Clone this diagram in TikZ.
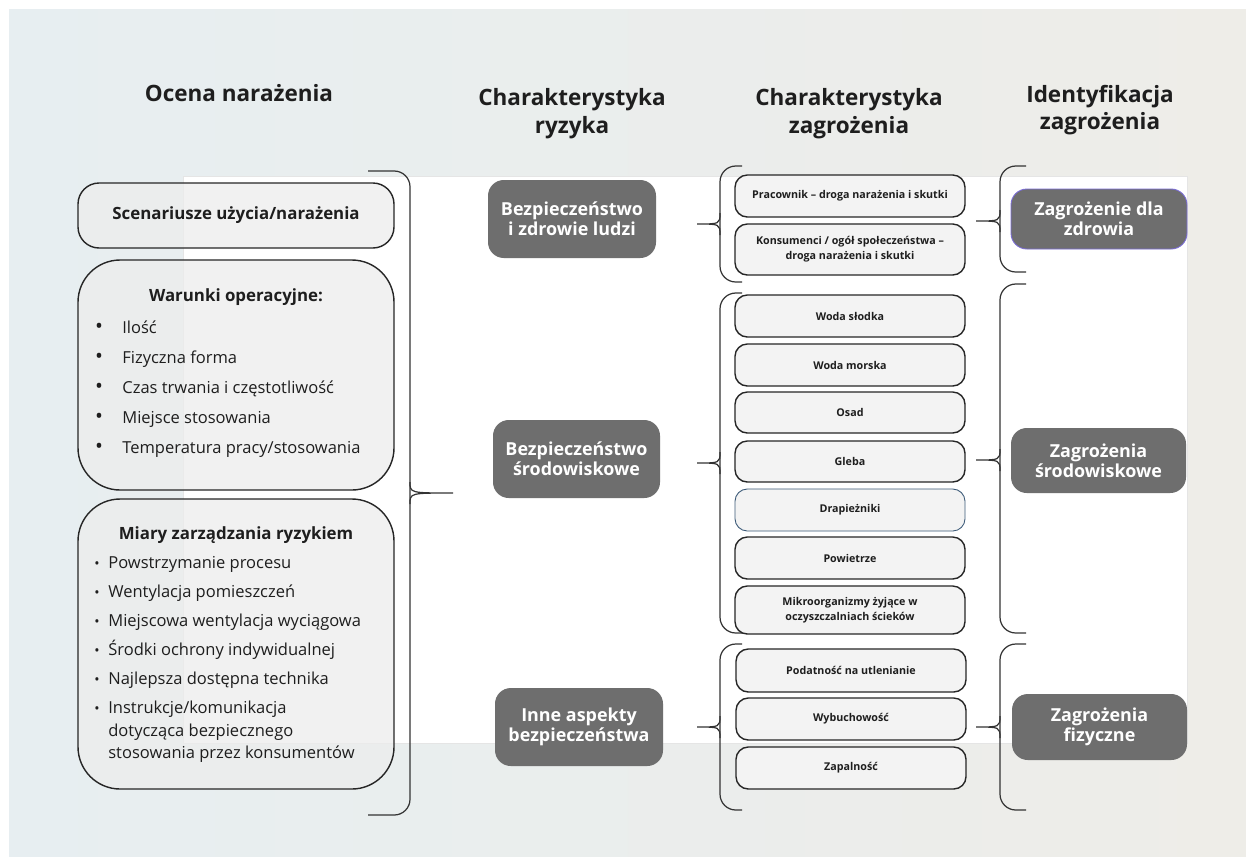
\documentclass[tikz,border=0pt]{standalone}
\usepackage{fontspec}
\setmainfont{Open Sans}
\usepackage{xcolor}
\definecolor{PanelGrey}{HTML}{6E6E6E}
\definecolor{BackBlue}{HTML}{E7EEF1}
\definecolor{BackSand}{HTML}{EEEDE8}
\definecolor{BoxGrey}{HTML}{F3F3F3}
\definecolor{LeftGrey}{HTML}{EDEDED}
\definecolor{InkGrey}{HTML}{1E1E1E}
\definecolor{EdgeBlue}{HTML}{3C5A78}
\definecolor{EdgeLilac}{HTML}{7A6CD6}
\usepackage{tikz}
\usetikzlibrary{calc}
\tikzset{>=latex}
\def\px{0.02cm}
% spine x, end x, tip x, top y, tip y, bottom y
\newcommand\hazBrace[6]{
	\draw[bracestyle,rounded corners=9] (#2,#4) -- (#1,#4) -- (#1,#6) -- (#2,#6);
	\draw[bracestyle] (#1,#5-11) .. controls (#1,#5) .. (#3,#5) .. controls (#1,#5) .. (#1,#5+11);
}

\begin{document}
\begin{tikzpicture}[x=\px,y=-\px,
	heading/.style={align=center,font=\fontsize{12.8}{15.8}\selectfont\bfseries,text=InkGrey},
	leftbox/.style={draw=black!85,line width=0.8pt,fill=LeftGrey,fill opacity=0.75,text opacity=1,rounded corners=#1,inner sep=0},
	boxtitle/.style={font=\fontsize{9.6}{12}\selectfont\bfseries,text=InkGrey},
	bullettext/.style={font=\fontsize{9.4}{12}\selectfont,text=InkGrey,inner sep=0,text height=1.6ex,text depth=.4ex},
	darkbox/.style={fill=PanelGrey,rounded corners=9,text=white,align=center,inner sep=0,
		font=\fontsize{10.2}{11.6}\selectfont\bfseries},
	smallbox/.style={draw=black!85,line width=0.8pt,fill=BoxGrey,rounded corners=7,align=center,inner sep=0,
		minimum width=230*\px,font=\fontsize{6.1}{8.5}\selectfont\bfseries,text=InkGrey},
	bracestyle/.style={black!80,line width=0.7pt}]
	
	\useasboundingbox (0,0) rectangle (1246,856);
	
	%% BACKGROUND AND WHITE PANEL
	\shade[left color=BackBlue,right color=BackSand] (9,9) rectangle (1246,856);
	\fill[white,draw=black!10,line width=0.3pt] (183,176) rectangle (1187,743);
	
	%% COLUMN HEADINGS
	\node[heading] (hOcena) at (239,93) {Ocena narażenia};
	\node[heading] (hRyzyko) at (572,114) {Charakterystyka\\ryzyka};
	\node[heading] (hZagr) at (849,114) {Charakterystyka\\zagrożenia};
	\node[heading] (hIdent) at (1100,110) {Identyfikacja\\zagrożenia};
	
	%% OCENA NARAZENIA
	\node[leftbox=12,minimum width=316*\px,minimum height=65*\px] (scen) at (236,215.5) {};
	\node[boxtitle] (scenText) at (scen.center) {Scenariusze użycia/narażenia};
	
	\node[leftbox=24,minimum width=316*\px,minimum height=230*\px] (warunki) at (236,375) {};
	\node[boxtitle] (warunkiTitle) at (236,297) {Warunki operacyjne:};
	\foreach \txt [count=\i from 0] in {Ilość,Fizyczna forma,Czas trwania i częstotliwość,Miejsce stosowania,Temperatura pracy/stosowania}{
		\node[bullettext,font=\fontsize{12}{12}\selectfont] (warDot\i) at (99,328+30*\i) {\textbullet};
		\node[bullettext,anchor=west] (war\i) at (122,328+30*\i) {\txt};
	}
	
	\node[leftbox=24,minimum width=316*\px,minimum height=290*\px] (miary) at (236,644) {};
	\node[boxtitle] (miaryTitle) at (236,535) {Miary zarządzania ryzykiem};
	\foreach \txt [count=\i from 0] in {Powstrzymanie procesu,Wentylacja pomieszczeń,Miejscowa wentylacja wyciągowa,Środki ochrony indywidualnej,Najlepsza dostępna technika,Instrukcje/komunikacja}{
		\node[bullettext,font=\fontsize{8}{8}\selectfont] (miaDot\i) at (97,563+29*\i) {\textbullet};
		\node[bullettext,anchor=west] (mia\i) at (108,563+29*\i) {\txt};
	}
	\node[bullettext,anchor=west] (mia6) at (108,731) {dotycząca bezpiecznego};
	\node[bullettext,anchor=west] (mia7) at (108,753) {stosowania przez konsumentów};
	
	\hazBrace{410}{368}{453}{171}{493}{815}
	
	%% CHARAKTERYSTYKA RYZYKA
	\node[darkbox,minimum width=168*\px,minimum height=78*\px] (ludzi) at (572,219) {Bezpieczeństwo\\i zdrowie ludzi};
	\node[darkbox,minimum width=167*\px,minimum height=78*\px] (srod) at (576.5,459) {Bezpieczeństwo\\środowiskowe};
	\node[darkbox,minimum width=168*\px,minimum height=78*\px] (inne) at (579,727) {Inne aspekty\\bezpieczeństwa};
	
	\hazBrace{720}{742}{697}{166}{224}{282}
	\hazBrace{720}{742}{697}{293}{463}{633}
	\hazBrace{720}{742}{697}{644}{727}{810}
	
	%% CHARAKTERYSTYKA ZAGROZENIA
	\node[smallbox,minimum height=42*\px] (prac) at (850,196) {Pracownik -- droga narażenia i skutki};
	\node[smallbox,minimum height=51*\px] (kons) at (850,249.5) {Konsumenci / ogół społeczeństwa --\\droga narażenia i skutki};
	\node[smallbox,minimum height=42*\px] (slodka) at (850,316) {Woda słodka};
	\node[smallbox,minimum height=42*\px] (morska) at (850,365) {Woda morska};
	\node[smallbox,minimum height=41*\px] (osad) at (850,412.5) {Osad};
	\node[smallbox,minimum height=41*\px] (gleba) at (850,461.5) {Gleba};
	\node[smallbox,minimum height=42*\px,draw=EdgeBlue,line width=0.5pt] (drap) at (850,510) {Drapieżniki};
	\node[smallbox,minimum height=42*\px] (powietrze) at (850,558) {Powietrze};
	\node[smallbox,minimum height=48*\px] (mikro) at (850,610) {Mikroorganizmy żyjące w\\oczyszczalniach ścieków};
	\node[smallbox,minimum height=43*\px] (utlen) at (851,670.5) {Podatność na utlenianie};
	\node[smallbox,minimum height=42*\px] (wybuch) at (851,719) {Wybuchowość};
	\node[smallbox,minimum height=42*\px] (zapal) at (851,768) {Zapalność};
	
	\hazBrace{1000}{1026}{976}{166}{221}{272}
	\hazBrace{1000}{1026}{976}{284}{460}{633}
	\hazBrace{1000}{1026}{976}{644}{727}{810}
	
	%% IDENTYFIKACJA ZAGROZENIA
	\node[darkbox,draw=EdgeLilac,line width=0.5pt,minimum width=176*\px,minimum height=60*\px] (zdrowie) at (1099,219) {Zagrożenie dla\\zdrowia};
	\node[darkbox,minimum width=175*\px,minimum height=65*\px] (zsrod) at (1098.5,460.5) {Zagrożenia\\środowiskowe};
	\node[darkbox,minimum width=175*\px,minimum height=66*\px] (zfiz) at (1099.5,727) {Zagrożenia\\fizyczne};
	
\end{tikzpicture}
\end{document}
